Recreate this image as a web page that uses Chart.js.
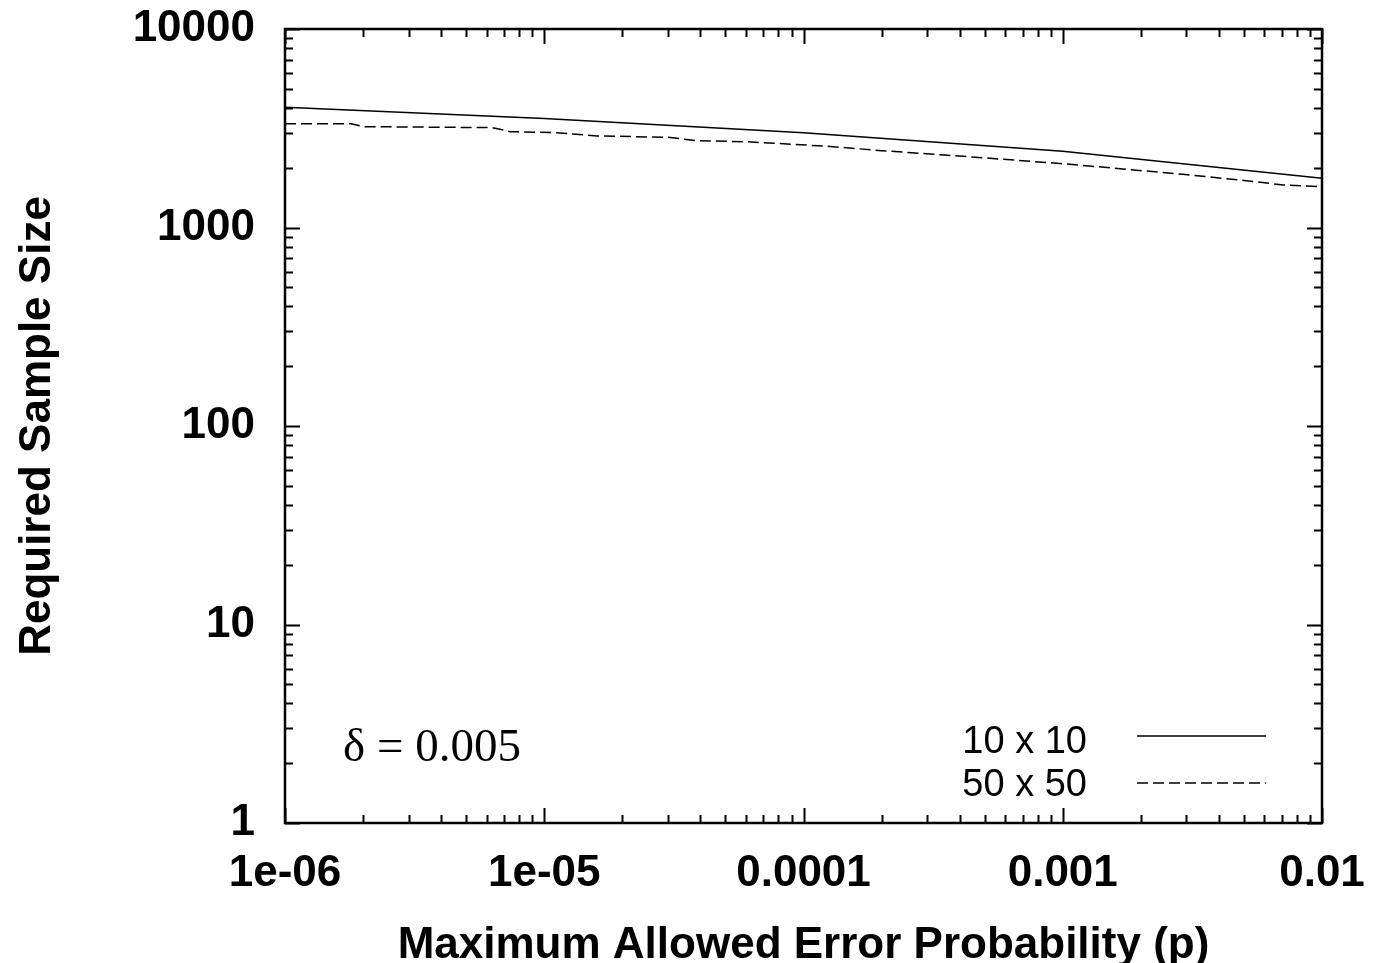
<!DOCTYPE html>
<html>
<head>
<meta charset="utf-8">
<script src="https://cdn.jsdelivr.net/npm/chart.js@4.4.1/dist/chart.umd.min.js"></script>
<style>
html,body{margin:0;padding:0;background:#fff;}
canvas{display:block;}
</style>
</head>
<body>
<canvas id="c" width="1373" height="963" style="width:1373px;height:963px"></canvas>
<script>
// ---- data ----
const seriesNames = ['10 x 10', '50 x 50'];
const p10 = [1e-6, 1e-5, 1e-4, 1e-3, 1e-2];
const n10 = [4040, 3540, 3000, 2420, 1770];
const p50 = [1e-6, 1.8e-6, 2e-6, 6.3e-6, 7.4e-6, 1.1e-5, 1.6e-5, 3e-5, 3.9e-5, 6e-5, 9.8e-5,
             1.3e-4, 2e-4, 3.5e-4, 5.9e-4, 1.03e-3, 1.7e-3, 2.9e-3, 5.1e-3, 7.1e-3, 1e-2];
const n50 = [3334, 3334, 3221, 3186, 3040, 3005, 2893, 2847, 2736, 2705, 2612,
             2553, 2438, 2318, 2207, 2090, 1973, 1854, 1722, 1637, 1606];
const xTickValues = [1e-6, 1e-5, 1e-4, 1e-3, 1e-2];
const xTickLabels = ['1e-06', '1e-05', '0.0001', '0.001', '0.01'];
const yTickValues = [1, 10, 100, 1000, 10000];
const yTickLabels = ['1', '10', '100', '1000', '10000'];
const xTitle = 'Maximum Allowed Error Probability (p)';
const yTitle = 'Required Sample Size';
const annotationText = 'δ = 0.005';

const FONT = '"Liberation Sans", Arial, Helvetica, sans-serif';

const decoPlugin = {
  id: 'deco',
  afterDraw(chart) {
    const ctx = chart.ctx;
    const a = chart.chartArea;
    const xs = chart.scales.x, ys = chart.scales.y;
    ctx.save();
    ctx.strokeStyle = '#000';
    // ticks inward on all 4 sides
    ctx.lineWidth = 2;
    const major = 15, minor = 8;
    for (let d = -6; d <= -2; d++) {
      for (let m = 1; m <= 9; m++) {
        if (d === -2 && m > 1) break;
        const v = m * Math.pow(10, d);
        const px = Math.round(xs.getPixelForValue(v)) + 0.5;
        const L = m === 1 ? major : minor;
        ctx.beginPath();
        ctx.moveTo(px, a.bottom); ctx.lineTo(px, a.bottom - L);
        ctx.moveTo(px, a.top); ctx.lineTo(px, a.top + L);
        ctx.stroke();
      }
    }
    for (let d = 0; d <= 4; d++) {
      for (let m = 1; m <= 9; m++) {
        if (d === 4 && m > 1) break;
        const v = m * Math.pow(10, d);
        const py = Math.round(ys.getPixelForValue(v)) + 0.5;
        const L = m === 1 ? major : minor;
        ctx.beginPath();
        ctx.moveTo(a.left, py); ctx.lineTo(a.left + L, py);
        ctx.moveTo(a.right, py); ctx.lineTo(a.right - L, py);
        ctx.stroke();
      }
    }
    // frame
    ctx.lineWidth = 2.5;
    ctx.strokeRect(a.left, a.top, a.right - a.left, a.bottom - a.top);

    // legend
    ctx.fillStyle = '#000';
    ctx.font = '38px ' + FONT;
    ctx.textAlign = 'right';
    ctx.textBaseline = 'middle';
    const legY = [743, 786];
    const lineY = [736, 783];
    chart.data.datasets.forEach((ds, i) => {
      ctx.fillText(ds.label, 1087, legY[i]);
      ctx.save();
      ctx.lineWidth = ds.borderWidth;
      ctx.strokeStyle = ds.borderColor;
      ctx.setLineDash(ds.borderDash || []);
      ctx.beginPath();
      ctx.moveTo(1137, lineY[i]); ctx.lineTo(1266, lineY[i]);
      ctx.stroke();
      ctx.restore();
    });

    // annotation
    ctx.font = '47px "Liberation Serif", "Times New Roman", serif';
    ctx.textAlign = 'left';
    ctx.textBaseline = 'alphabetic';
    ctx.fillText(annotationText, 343, 761);

    // axis titles
    ctx.font = 'bold 44px ' + FONT;
    ctx.textAlign = 'center';
    ctx.textBaseline = 'alphabetic';
    ctx.fillText(xTitle, (a.left + a.right) / 2, 958);
    ctx.save();
    ctx.translate(50, (a.top + a.bottom) / 2);
    ctx.rotate(-Math.PI / 2);
    ctx.fillText(yTitle, 0, 0);
    ctx.restore();
    ctx.restore();
  }
};

const toPts = (xs, ys) => xs.map((x, i) => ({x: x, y: ys[i]}));

new Chart(document.getElementById('c'), {
  type: 'line',
  data: {
    datasets: [
      {label: seriesNames[0], data: toPts(p10, n10), borderColor: '#000', borderWidth: 1.5,
       pointRadius: 0, fill: false, tension: 0},
      {label: seriesNames[1], data: toPts(p50, n50), borderColor: '#000', borderWidth: 1.5,
       borderDash: [11, 5], pointRadius: 0, fill: false, tension: 0}
    ]
  },
  options: {
    responsive: false,
    animation: false,
    devicePixelRatio: 1,
    layout: {padding: {top: 29, right: 51, left: 0, bottom: 0}},
    plugins: {legend: {display: false}, tooltip: {enabled: false}},
    scales: {
      x: {
        type: 'logarithmic', min: 1e-6, max: 1e-2,
        grid: {display: false, drawTicks: false},
        border: {display: false},
        afterBuildTicks: s => { s.ticks = xTickValues.map(v => ({value: v})); },
        afterFit: s => { s.height = 140; s.paddingLeft = 0; s.paddingRight = 0; s.paddingTop = 0; s.paddingBottom = 0; },
        ticks: {
          autoSkip: false, maxRotation: 0, padding: 24, color: '#000',
          font: {family: FONT, size: 44, weight: 'bold'},
          callback: (v, i) => xTickLabels[i]
        }
      },
      y: {
        type: 'logarithmic', min: 1, max: 10000,
        grid: {display: false, drawTicks: false},
        border: {display: false},
        afterBuildTicks: s => { s.ticks = yTickValues.map(v => ({value: v})); },
        afterFit: s => { s.width = 285; s.paddingLeft = 0; s.paddingRight = 0; s.paddingTop = 0; s.paddingBottom = 0; },
        ticks: {
          autoSkip: false, padding: 30, color: '#000',
          font: {family: FONT, size: 44, weight: 'bold'},
          callback: (v, i) => yTickLabels[i]
        }
      }
    }
  },
  plugins: [decoPlugin]
});
</script>
</body>
</html>
